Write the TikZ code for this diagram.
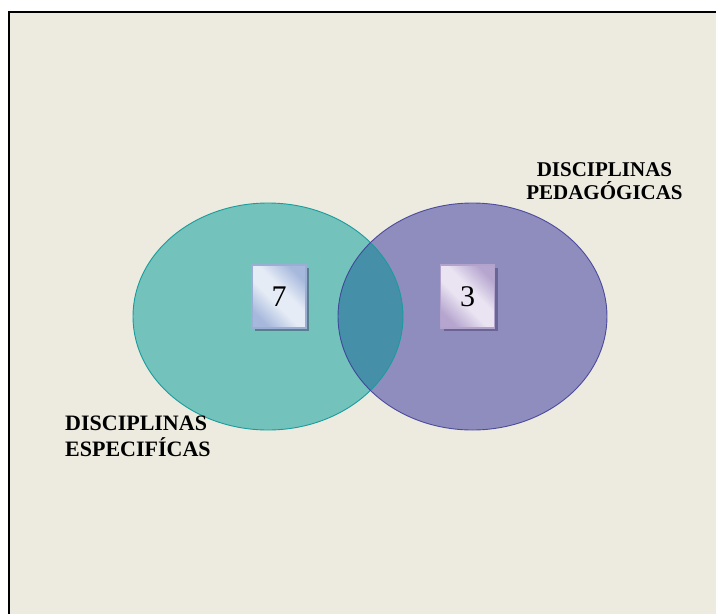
\documentclass[tikz,border=0pt]{standalone}
\usepackage{fontspec}
\setmainfont{Liberation Serif}
\usetikzlibrary{shadows}

\definecolor{paper}{HTML}{EDEAE0}
\definecolor{tealfill}{HTML}{74C2BC}
\definecolor{tealedge}{HTML}{1A9C9C}
\definecolor{violetfill}{HTML}{8F8DBE}
\definecolor{violetedge}{HTML}{3A3A96}
\definecolor{overlapfill}{HTML}{468FA8}
\definecolor{bluelight}{HTML}{E6ECF6}
\definecolor{bluedark}{HTML}{A6B8DC}
\definecolor{blueedge}{HTML}{9AAED6}
\definecolor{blueshadow}{HTML}{56808E}
\definecolor{lilaclight}{HTML}{EAE4F2}
\definecolor{lilacdark}{HTML}{B6A6CF}
\definecolor{lilacedge}{HTML}{B2A3CD}
\definecolor{lilacshadow}{HTML}{6A6594}

\pgfdeclarehorizontalshading{bluegloss}{100bp}{color(0bp)=(bluedark); color(25bp)=(bluedark); color(44bp)=(bluelight); color(56bp)=(bluelight); color(75bp)=(bluedark); color(100bp)=(bluedark)}
\pgfdeclarehorizontalshading{lilacgloss}{100bp}{color(0bp)=(lilacdark); color(25bp)=(lilacdark); color(44bp)=(lilaclight); color(56bp)=(lilaclight); color(75bp)=(lilacdark); color(100bp)=(lilacdark)}

\tikzset{
  countbox/.style={minimum width=54pt, minimum height=63pt, inner sep=0pt,
    line width=1.6pt, shading angle=45,
    font=\fontsize{30}{30}\selectfont},
  bluebox/.style={countbox, draw=blueedge, shading=bluegloss,
    general shadow={fill=blueshadow, shadow xshift=3pt, shadow yshift=-3pt}},
  lilacbox/.style={countbox, draw=lilacedge, shading=lilacgloss,
    general shadow={fill=lilacshadow, shadow xshift=3pt, shadow yshift=-3pt}},
  setlabel/.style={inner sep=0pt, font=\bfseries\fontsize{22}{25.6}\selectfont}
}

\begin{document}
\begin{tikzpicture}[x=1pt, y=-1pt]
  \useasboundingbox (0,0) rectangle (716,614);
  \fill[white] (0,0) rectangle (716,614);
  % page background and its frame (top and left edges)
  \fill[paper] (9,12) rectangle (716,614);
  \draw[line width=2pt, black] (9,614) -- (9,12) -- (716,12);

  % the two sets
  \fill[tealfill] (268,316.5) ellipse [x radius=135, y radius=113.5];
  \fill[violetfill] (472.5,316.5) ellipse [x radius=134.5, y radius=113.5];
  \begin{scope}
    \clip (268,316.5) ellipse [x radius=135, y radius=113.5];
    \fill[overlapfill] (472.5,316.5) ellipse [x radius=134.5, y radius=113.5];
  \end{scope}
  \draw[tealedge, line width=0.9pt] (268,316.5) ellipse [x radius=135, y radius=113.5];
  \draw[violetedge, line width=0.9pt, opacity=0.85] (472.5,316.5) ellipse [x radius=134.5, y radius=113.5];

  % counts
  \node[bluebox] (seven) at (279,296.5) {7};
  \node[lilacbox] (three) at (467.5,296.5) {3};

  % set names
  \node[setlabel, anchor=north west, align=left] (specific) at (65,416)
    {DISCIPLINAS\\ESPECIFÍCAS};
  \node[setlabel, anchor=north, align=center, font=\bfseries\fontsize{21}{23.4}\selectfont]
    (pedagogic) at (604.5,162) {DISCIPLINAS\\PEDAGÓGICAS};
\end{tikzpicture}
\end{document}
